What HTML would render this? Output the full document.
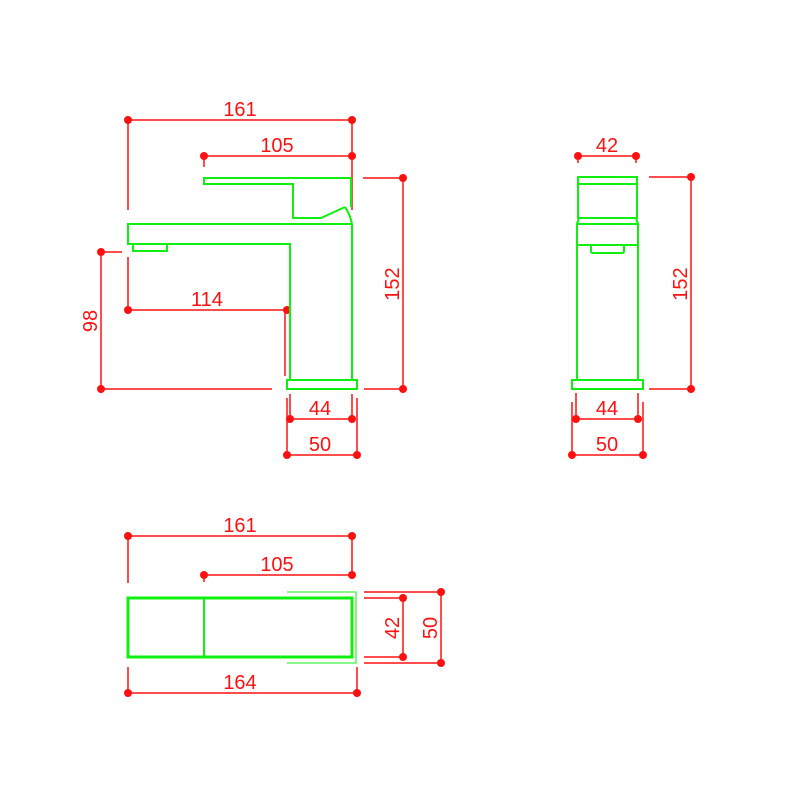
<!DOCTYPE html>
<html><head><style>html,body{margin:0;padding:0;background:#fff}svg{display:block}</style></head>
<body>
<svg width="800" height="800" viewBox="0 0 800 800" xmlns="http://www.w3.org/2000/svg" font-family="Liberation Sans, sans-serif" font-size="20">
<g stroke="#ff1010" stroke-width="1.5" fill="none">
<path d="M128 120H352M128 120V210M352 120V210"/>
<path d="M204 156H352M204 156V167"/>
<path d="M128 310H287M128 257V310M285 310V376"/>
<path d="M101 252V389M101 252H122M101 389H272"/>
<path d="M403 178V389M363 178H403M364 389H403"/>
<path d="M290 419H352M290 394V419M352 394V419"/>
<path d="M287 455H357M287 398V455M357 398V455"/>
<path d="M578 156H636M578 156V163M636 156V163"/>
<path d="M691 177V389M649 177H691M649 389H691"/>
<path d="M576 419H638M576 393V419M638 393V419"/>
<path d="M572 455H643M572 402V455M643 402V455"/>
<path d="M128 536H352M128 536V583M352 536V575"/>
<path d="M204 575H352M204 575V582"/>
<path d="M128 693H357M128 667V693M357 667V693"/>
<path d="M403 598V657M364 598H403M364 657H403"/>
<path d="M441 592V663M364 592H441M364 663H441"/>
</g>
<g fill="#ff1010">
<circle cx="128" cy="120" r="4"/><circle cx="352" cy="120" r="4"/>
<circle cx="204" cy="156" r="4"/><circle cx="352" cy="156" r="4"/>
<circle cx="128" cy="310" r="4"/><circle cx="287" cy="310" r="4"/>
<circle cx="101" cy="252" r="4"/><circle cx="101" cy="389" r="4"/>
<circle cx="403" cy="178" r="4"/><circle cx="403" cy="389" r="4"/>
<circle cx="290" cy="419" r="4"/><circle cx="352" cy="419" r="4"/>
<circle cx="287" cy="455" r="4"/><circle cx="357" cy="455" r="4"/>
<circle cx="578" cy="156" r="4"/><circle cx="636" cy="156" r="4"/>
<circle cx="691" cy="177" r="4"/><circle cx="691" cy="389" r="4"/>
<circle cx="576" cy="419" r="4"/><circle cx="638" cy="419" r="4"/>
<circle cx="572" cy="455" r="4"/><circle cx="643" cy="455" r="4"/>
<circle cx="128" cy="536" r="4"/><circle cx="352" cy="536" r="4"/>
<circle cx="204" cy="575" r="4"/><circle cx="352" cy="575" r="4"/>
<circle cx="128" cy="693" r="4"/><circle cx="357" cy="693" r="4"/>
<circle cx="403" cy="598" r="4"/><circle cx="403" cy="657" r="4"/>
<circle cx="441" cy="592" r="4"/><circle cx="441" cy="663" r="4"/>
<text x="240" y="116" text-anchor="middle">161</text>
<text x="277" y="152" text-anchor="middle">105</text>
<text x="207" y="306" text-anchor="middle">114</text>
<text x="320" y="415" text-anchor="middle">44</text>
<text x="320" y="451" text-anchor="middle">50</text>
<text transform="translate(97,321) rotate(-90)" text-anchor="middle">98</text>
<text transform="translate(399,284) rotate(-90)" text-anchor="middle">152</text>
<text x="607" y="152" text-anchor="middle">42</text>
<text x="607" y="415" text-anchor="middle">44</text>
<text x="607" y="451" text-anchor="middle">50</text>
<text transform="translate(687,284) rotate(-90)" text-anchor="middle">152</text>
<text x="240" y="532" text-anchor="middle">161</text>
<text x="277" y="571" text-anchor="middle">105</text>
<text x="240" y="689" text-anchor="middle">164</text>
<text transform="translate(399,628) rotate(-90)" text-anchor="middle">42</text>
<text transform="translate(437,628) rotate(-90)" text-anchor="middle">50</text>
</g>
<g stroke="#10f010" stroke-width="2" fill="none">
<path d="M351 178H204V184H293V218H321L345 207"/>
<path d="M351 178V207"/>
<path d="M345 207Q350 214 352 224"/>
<path d="M352 224H128V244H290V380M352 224V380"/>
<path d="M133 244V251H167V244"/>
<rect x="287" y="380" width="70" height="9"/>
<rect x="578" y="177" width="59" height="41"/>
<path d="M578 184H637M579 218L577 224M636 218L638 224"/>
<rect x="577" y="224" width="61" height="156"/>
<path d="M577 245H638M591 245V251Q591 253 593 253H622Q624 253 624 251V245"/>
<rect x="572" y="380" width="71" height="9"/>
<path d="M287 592H356V663H287" stroke-width="1.3" stroke="#40f040"/>
<rect x="128" y="598" width="224" height="59" stroke-width="3"/>
<path d="M204 598V657"/>
</g>
</svg>
</body></html>
